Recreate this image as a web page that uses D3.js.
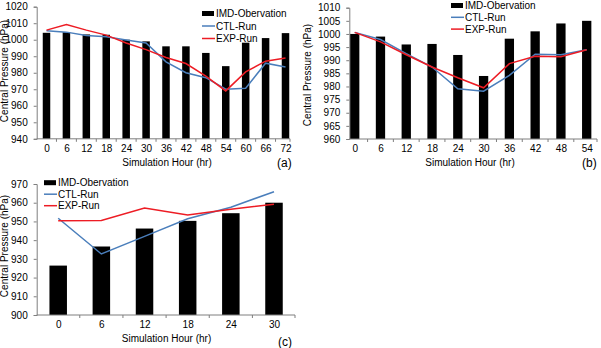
<!DOCTYPE html>
<html>
<head>
<meta charset="utf-8">
<script src="https://cdn.jsdelivr.net/npm/d3@7"></script>
<style>
  body { margin: 0; background: #fff; }
  svg { display: block; }
  text { font-family: "Liberation Sans", Arial, sans-serif; fill: #000; }
</style>
</head>
<body>
<div id="chart"></div>
<script>
// ---- panel (a)
const hoursA = [0, 6, 12, 18, 24, 30, 36, 42, 48, 54, 60, 66, 72];
const obsA = [1004.2, 1004.6, 1003.2, 1003, 1000, 999, 996, 996, 992, 984, 998.2, 1001, 1004];
const ctlA = [1005.4, 1004.6, 1002.6, 1001.8, 999.8, 998, 986.6, 980, 977, 970, 970.6, 985.8, 983.5];
const expA = [1005.8, 1009.2, 1005.8, 1002.8, 998, 994, 989.2, 985.6, 978, 969, 980.5, 987, 989];
const yTicksA = [940, 950, 960, 970, 980, 990, 1000, 1010, 1020];

// ---- panel (b)
const hoursB = [0, 6, 12, 18, 24, 30, 36, 42, 48, 54];
const obsB = [1000, 999, 996, 996.2, 992, 984, 998.2, 1001, 1004, 1005];
const ctlB = [1000.6, 997.9, 992.5, 987.4, 979.1, 978.2, 984.2, 992.3, 992.1, 994];
const expB = [1000.6, 997, 992.1, 987.4, 983.3, 979.5, 988.7, 991.5, 991.3, 994];
const yTicksB = [960, 965, 970, 975, 980, 985, 990, 995, 1000, 1005, 1010];

// ---- panel (c)
const hoursC = [0, 6, 12, 18, 24, 30];
const obsC = [926.4, 936.6, 946.2, 950.3, 954.4, 960];
const ctlC = [951.7, 932.6, 942, 951.4, 957.6, 965.9];
const expC = [950.3, 950.5, 957.2, 953.5, 956.5, 959.2];
const yTicksC = [900, 910, 920, 930, 940, 950, 960, 970];

const seriesNames = ["IMD-Obervation", "CTL-Run", "EXP-Run"];
const blue = "#4a7ebb", red = "#ed1c24", axisGray = "#7f7f7f";

const svg = d3.select("#chart").append("svg")
  .attr("width", 601)
  .attr("height", 348);

function drawPanel(p) {
  const g = svg.append("g");

  // category centres (bars do not sit symmetric in the axis box, so use a point scale)
  const x = d3.scalePoint().domain(p.hours).range([p.c0, p.c1]);
  const y = d3.scaleLinear().domain(d3.extent(p.yTicks)).range([p.yBottom, p.yTop]);

  // bars
  g.selectAll("rect.bar")
    .data(p.obs)
    .enter().append("rect")
    .attr("class", "bar")
    .attr("x", (d, i) => x(p.hours[i]) - p.barW / 2)
    .attr("y", d => y(d))
    .attr("width", p.barW)
    .attr("height", d => p.yBottom - y(d))
    .attr("fill", "#000");

  // lines
  const line = d3.line().x((d, i) => x(p.hours[i])).y(d => y(d));
  g.append("path").datum(p.ctl).attr("d", line)
    .attr("fill", "none").attr("stroke", blue).attr("stroke-width", 1.5);
  g.append("path").datum(p.exp).attr("d", line)
    .attr("fill", "none").attr("stroke", red).attr("stroke-width", 1.5);

  // y axis
  const yAxis = d3.axisLeft(y).tickValues(p.yTicks).tickFormat(d3.format("d")).tickSize(3).tickPadding(6);
  const ya = g.append("g")
    .attr("transform", "translate(" + p.axisX0 + ",0)")
    .call(yAxis);
  ya.select(".domain").attr("stroke", axisGray);
  ya.selectAll(".tick line").attr("stroke", axisGray);
  ya.selectAll(".tick text").attr("font-size", 10).attr("font-family", "Liberation Sans, Arial, sans-serif");

  // x axis: labels from the point scale, tick marks between categories
  const xAxis = d3.axisBottom(x).tickSize(0).tickPadding(6);
  const xa = g.append("g")
    .attr("transform", "translate(0," + p.yBottom + ")")
    .call(xAxis);
  xa.select(".domain").remove();
  xa.selectAll(".tick text").attr("font-size", 10).attr("font-family", "Liberation Sans, Arial, sans-serif");
  g.append("line")
    .attr("x1", p.axisX0).attr("x2", p.axisX1)
    .attr("y1", p.yBottom).attr("y2", p.yBottom)
    .attr("stroke", axisGray);
  const mids = p.hours.slice(1).map((h, i) => (x(h) + x(p.hours[i])) / 2);
  mids.push(p.axisX1);
  g.selectAll("line.xt")
    .data(mids)
    .enter().append("line")
    .attr("class", "xt")
    .attr("x1", d => d).attr("x2", d => d)
    .attr("y1", p.yBottom).attr("y2", p.yBottom + 3)
    .attr("stroke", axisGray);

  // axis titles
  g.append("text")
    .attr("x", p.xTitleX).attr("y", p.yBottom + 27)
    .attr("text-anchor", "middle").attr("font-size", 10)
    .text("Simulation Hour (hr)");
  g.append("text")
    .attr("transform", "translate(" + p.yTitleX + "," + p.yTitleY + ") rotate(-90)")
    .attr("text-anchor", "middle").attr("font-size", 10)
    .text("Central Pressure (hPa)");

  // panel label
  g.append("text")
    .attr("x", p.labelX).attr("y", p.labelY)
    .attr("font-size", 12)
    .text(p.label);

  // legend
  const lg = g.append("g").attr("transform", "translate(" + p.legX + "," + p.legY + ")");
  lg.append("rect").attr("x", 0).attr("y", -2.5).attr("width", 12).attr("height", 5).attr("fill", "#000");
  [blue, red].forEach((c, i) => {
    lg.append("line")
      .attr("x1", 0).attr("x2", 13)
      .attr("y1", (i + 1) * p.legStep).attr("y2", (i + 1) * p.legStep)
      .attr("stroke", c).attr("stroke-width", 1.5);
  });
  seriesNames.forEach((s, i) => {
    lg.append("text")
      .attr("x", 14).attr("y", i * p.legStep)
      .attr("dy", "0.35em").attr("font-size", 10)
      .text(s);
  });
}

drawPanel({
  hours: hoursA, obs: obsA, ctl: ctlA, exp: expA, yTicks: yTicksA,
  c0: 46.5, c1: 285.5, axisX0: 36.7, axisX1: 290,
  yTop: 6.7, yBottom: 138.8, barW: 7.5,
  xTitleX: 167, yTitleX: 8, yTitleY: 71,
  label: "(a)", labelX: 277, labelY: 167,
  legX: 202, legY: 13.5, legStep: 12.5
});

drawPanel({
  hours: hoursB, obs: obsB, ctl: ctlB, exp: expB, yTicks: yTicksB,
  c0: 354.7, c1: 586.7, axisX0: 349.3, axisX1: 597,
  yTop: 7.7, yBottom: 139, barW: 9.3,
  xTitleX: 470, yTitleX: 311, yTitleY: 75,
  label: "(b)", labelX: 582, labelY: 167,
  legX: 451, legY: 5.5, legStep: 11.8
});

drawPanel({
  hours: hoursC, obs: obsC, ctl: ctlC, exp: expC, yTicks: yTicksC,
  c0: 58.2, c1: 274, axisX0: 36.7, axisX1: 295,
  yTop: 184, yBottom: 315, barW: 17.5,
  xTitleX: 166.5, yTitleX: 8, yTitleY: 246,
  label: "(c)", labelX: 278, labelY: 346,
  legX: 44, legY: 182.7, legStep: 11.5
});
</script>
</body>
</html>
